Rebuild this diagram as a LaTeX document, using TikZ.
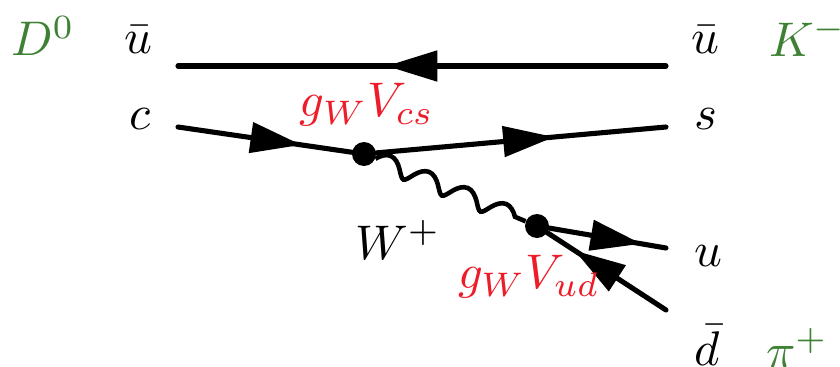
\documentclass[tikz,border=0pt]{standalone}
\usepackage{amsmath,amssymb}
\usetikzlibrary{arrows.meta,decorations.markings,decorations.pathmorphing}
\definecolor{mesongreen}{RGB}{62,128,52}
\definecolor{couplingred}{RGB}{237,28,40}

\begin{document}
\begin{tikzpicture}[x=0.02cm,y=-0.02cm,
        quark/.style={line width=2.9pt,line cap=round,postaction={decorate},
                      decoration={markings,mark=at position #1 with
                      {\arrow{Triangle[length=10.2mm,width=6mm,sep=0pt]}}}},
        boson/.style={line width=2.6pt,decorate,
                      decoration={coil,aspect=0.3,amplitude=1.7mm,segment length=8.35mm}},
        vertex/.style={circle,fill=black,inner sep=0pt,minimum size=4.8mm},
        particle/.style={scale=2.77,inner sep=0pt},
        meson/.style={particle,text=mesongreen},
        coupling/.style={particle,text=couplingred}]
        \useasboundingbox (0,0) rectangle (840,366);

        \coordinate (ubarin) at (178,66);
        \coordinate (ubarout) at (666,66);
        \coordinate (cin) at (178,127);
        \coordinate (sout) at (666,127);
        \coordinate (uout) at (666,248);
        \coordinate (dbarout) at (666,310);
        \node[vertex] (vcs) at (364,154) {};
        \node[vertex] (vud) at (537,226) {};

        \draw[quark=0.573] (ubarout) -- (ubarin);
        \draw[quark=0.71] (cin) -- (vcs);
        \draw[quark=0.614] (vcs) -- (sout);
        \draw[quark=0.79] (vud) -- (uout);
        \draw[quark=0.77] (dbarout) -- (vud);
        \draw[boson] (vcs) -- (vud);

        \node[meson] (dzero) at (43,36) {$D^0$};
        \node[particle] (ubarleft) at (138,40) {$\bar u$};
        \node[particle] (cquark) at (140,119) {$c$};
        \node[particle] (ubarright) at (705,40) {$\bar u$};
        \node[meson] (kminus) at (808,37) {$K^-$};
        \node[particle] (squark) at (706,119) {$s$};
        \node[coupling] (gcs) at (367,105) {$g_W V_{cs}$};
        \node[particle] (wplus) at (398,240) {$W^+$};
        \node[coupling] (gud) at (529,277) {$g_W V_{ud}$};
        \node[particle] (uquark) at (708,256) {$u$};
        \node[particle] (dbar) at (707,345) {$\bar d$};
        \node[meson] (piplus) at (797,348) {$\pi^+$};
    \end{tikzpicture}
\end{document}
